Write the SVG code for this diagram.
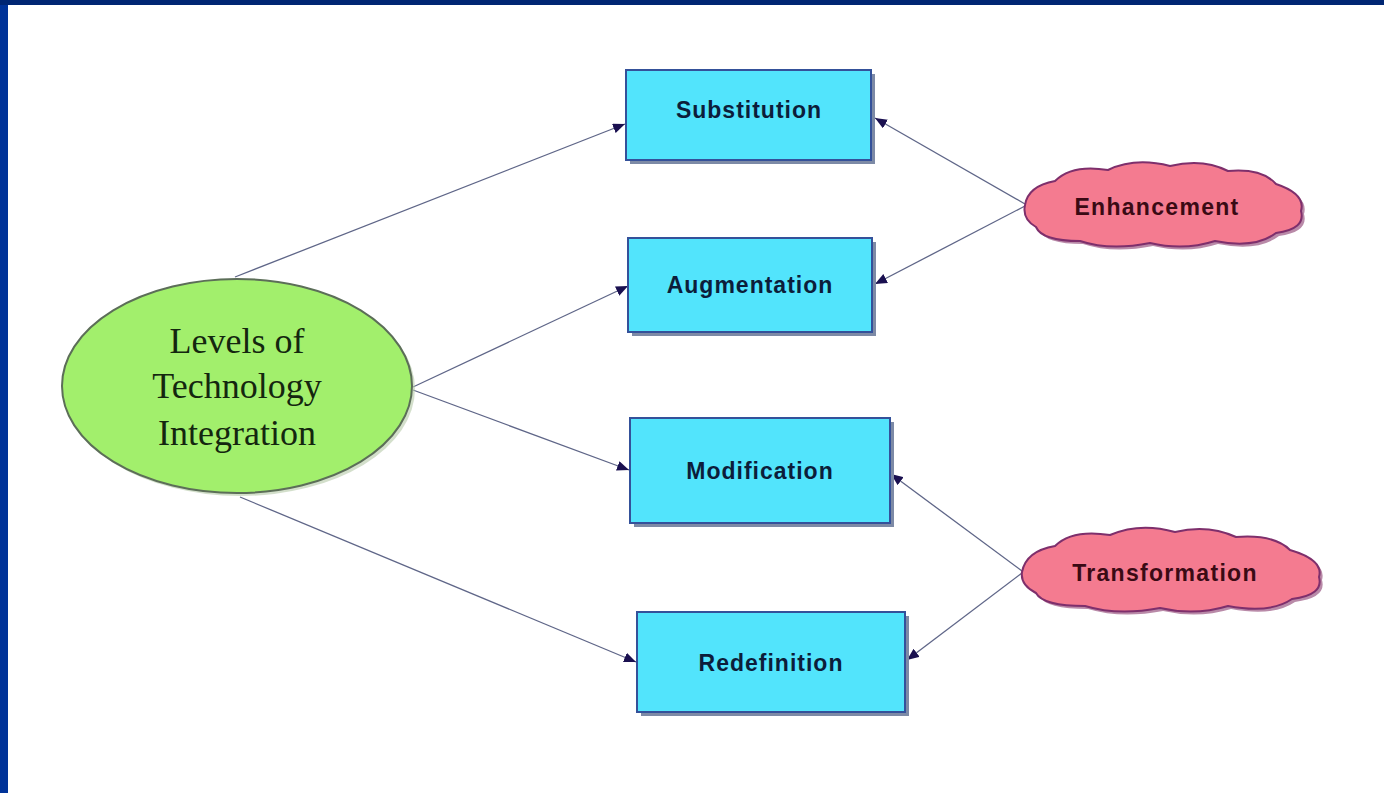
<svg xmlns="http://www.w3.org/2000/svg" width="1384" height="793" viewBox="0 0 1384 793">
<defs>
<style>
.box{fill:#52e4fc;stroke:#34519a;stroke-width:2}
.shadow{fill:#7d8aa6}
.btxt{font-family:"Liberation Sans",Arial,sans-serif;font-weight:bold;font-size:23px;letter-spacing:1px;fill:#0c1d3a;text-anchor:middle}
.ctxt{font-family:"Liberation Sans",Arial,sans-serif;font-weight:bold;font-size:23px;letter-spacing:1.3px;fill:#3a0a14;text-anchor:middle}
.cloud{fill:#f47b90;stroke:#7e2f6c;stroke-width:2}
.cshadow{fill:#b98aa8}
.etxt{font-family:"Liberation Serif","Times New Roman",serif;font-size:36px;fill:#14260f;text-anchor:middle}
.conn{stroke:#5f6688;stroke-width:1.3;fill:none;marker-end:url(#arr)}
</style>
<marker id="arr" viewBox="0 0 12 10" refX="12" refY="5" markerWidth="12" markerHeight="10" markerUnits="userSpaceOnUse" orient="auto">
<path d="M0,0 L12,5 L0,10 Z" fill="#1a1050"/>
</marker>
</defs>
<rect x="0" y="0" width="1384" height="793" fill="#ffffff"/>
<rect x="0" y="0" width="8" height="793" fill="#003399"/>
<rect x="0" y="0" width="1384" height="5" fill="#002673"/>

<g id="connectors">
<line class="conn" x1="235" y1="277" x2="625" y2="124"/>
<line class="conn" x1="413" y1="387" x2="628" y2="286"/>
<line class="conn" x1="413" y1="390" x2="629" y2="470"/>
<line class="conn" x1="240" y1="497" x2="636" y2="662"/>
<line class="conn" x1="1025" y1="204" x2="875" y2="118"/>
<line class="conn" x1="1025" y1="206" x2="875" y2="284"/>
<line class="conn" x1="1022" y1="571" x2="891" y2="474"/>
<line class="conn" x1="1022" y1="573" x2="907" y2="660"/>
</g>

<g id="levels">
<ellipse cx="240" cy="389" rx="175" ry="107" fill="#b5c9a8" opacity="0.6"/>
<ellipse cx="237" cy="386" rx="175" ry="107" fill="#a2ef6c" stroke="#5c6e58" stroke-width="2"/>
<text class="etxt" x="237" y="353">Levels of</text>
<text class="etxt" x="237" y="398">Technology</text>
<text class="etxt" x="237" y="445">Integration</text>
</g>

<g id="substitution">
<rect class="shadow" x="630" y="74" width="245" height="90"/>
<rect class="box" x="626" y="70" width="245" height="90"/>
<text class="btxt" x="749" y="118">Substitution</text>
</g>

<g id="augmentation">
<rect class="shadow" x="632" y="242" width="244" height="94"/>
<rect class="box" x="628" y="238" width="244" height="94"/>
<text class="btxt" x="750" y="293">Augmentation</text>
</g>

<g id="modification">
<rect class="shadow" x="634" y="422" width="260" height="105"/>
<rect class="box" x="630" y="418" width="260" height="105"/>
<text class="btxt" x="760" y="479">Modification</text>
</g>

<g id="redefinition">
<rect class="shadow" x="641" y="616" width="268" height="100"/>
<rect class="box" x="637" y="612" width="268" height="100"/>
<text class="btxt" x="771" y="671">Redefinition</text>
</g>

<g id="enhancement">
<path class="cshadow" transform="translate(3,3)" d="M1025,205 Q1028,186 1055,181 Q1072,164 1108,170 Q1135,157 1170,166 Q1203,158 1228,171 Q1262,168 1276,184 Q1306,194 1301,211 Q1306,229 1276,233 Q1255,249 1215,241 Q1184,251 1150,243 Q1110,251 1080,241 Q1042,241 1036,227 Q1022,219 1025,205 Z"/>
<path class="cloud" d="M1025,205 Q1028,186 1055,181 Q1072,164 1108,170 Q1135,157 1170,166 Q1203,158 1228,171 Q1262,168 1276,184 Q1306,194 1301,211 Q1306,229 1276,233 Q1255,249 1215,241 Q1184,251 1150,243 Q1110,251 1080,241 Q1042,241 1036,227 Q1022,219 1025,205 Z"/>
<text class="ctxt" x="1157" y="215">Enhancement</text>
</g>

<g id="transformation">
<path class="cshadow" transform="translate(3,3)" d="M1022,572 Q1026,551 1055,546 Q1072,529 1110,535 Q1140,522 1175,532 Q1208,524 1236,537 Q1274,534 1290,550 Q1324,560 1319,577 Q1324,595 1292,599 Q1270,614 1228,606 Q1195,616 1160,608 Q1118,616 1085,606 Q1043,606 1036,593 Q1020,585 1022,572 Z"/>
<path class="cloud" d="M1022,572 Q1026,551 1055,546 Q1072,529 1110,535 Q1140,522 1175,532 Q1208,524 1236,537 Q1274,534 1290,550 Q1324,560 1319,577 Q1324,595 1292,599 Q1270,614 1228,606 Q1195,616 1160,608 Q1118,616 1085,606 Q1043,606 1036,593 Q1020,585 1022,572 Z"/>
<text class="ctxt" x="1165" y="581">Transformation</text>
</g>
</svg>
